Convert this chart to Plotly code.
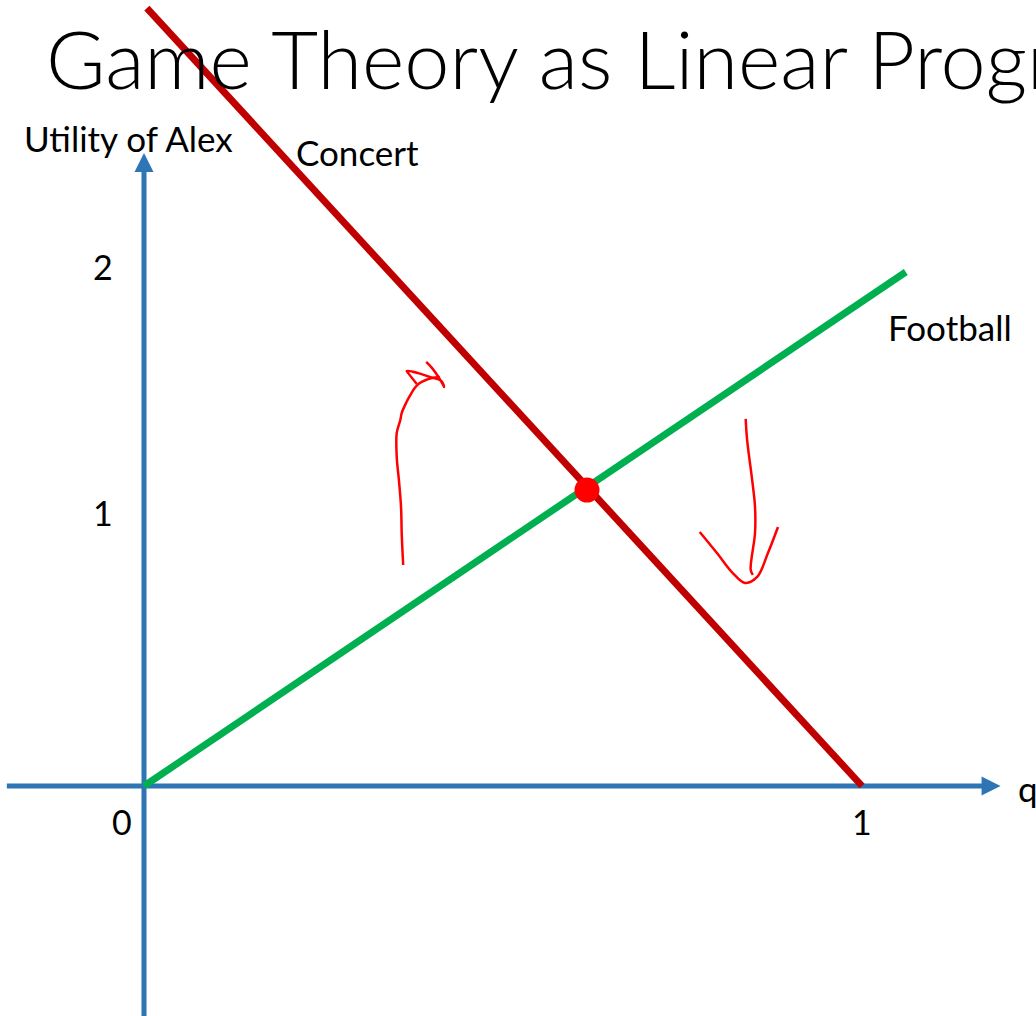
import plotly.graph_objects as go

# payoff lines (q = probability, utility of Alex)
football_q = [0.0, 1.061]
football_u = [0.0, 1.977]
concert_q = [0.004, 1.0]
concert_u = [2.992, 0.0]

# axis extents
x_axis_q = [-0.191, 1.17]
y_axis_u = [-0.885, 2.37]
x_arrow = (1.193, 0.0)
y_arrow = (0.0, 2.435)

x_tick_vals = [0, 1]
x_tick_labels = ["0", "1"]
y_tick_vals = [1, 2]
y_tick_labels = ["1", "2"]

# hand drawn annotations (red pen)
left_stroke_q = [0.361, 0.359, 0.358, 0.355, 0.352, 0.352, 0.357, 0.359, 0.365, 0.371, 0.377, 0.384, 0.393, 0.401, 0.412]
left_stroke_u = [0.850, 0.965, 1.073, 1.177, 1.265, 1.358, 1.408, 1.435, 1.473, 1.504, 1.531, 1.550, 1.562, 1.569, 1.573]
left_head_q = [0.380, 0.368, 0.366, 0.382, 0.398, 0.414, 0.418, 0.412, 0.401, 0.393]
left_head_u = [1.546, 1.588, 1.596, 1.588, 1.573, 1.558, 1.535, 1.565, 1.608, 1.631]
right_stroke_q = [0.838, 0.840, 0.847, 0.851, 0.851, 0.845, 0.848]
right_stroke_u = [1.412, 1.331, 1.177, 1.073, 0.973, 0.831, 0.812]
right_head_q = [0.774, 0.798, 0.820, 0.837, 0.854, 0.869, 0.883]
right_head_u = [0.977, 0.896, 0.819, 0.781, 0.804, 0.896, 0.996]
equilibrium = (0.617, 1.138)

BLUE = "#2E75B6"
GREEN = "#00B050"
DARKRED = "#C00000"
PEN = "#FF0000"
FONT = "Lato"

fig = go.Figure()

# axes with arrow heads
fig.add_trace(go.Scatter(x=x_axis_q, y=[0, 0], mode="lines", line=dict(color=BLUE, width=5)))
fig.add_trace(go.Scatter(x=[0, 0], y=y_axis_u, mode="lines", line=dict(color=BLUE, width=5)))
fig.add_trace(go.Scatter(x=[x_arrow[0]], y=[x_arrow[1]], mode="markers",
                         marker=dict(symbol="arrow-right", size=19, color=BLUE, line=dict(width=0))))
fig.add_trace(go.Scatter(x=[y_arrow[0]], y=[y_arrow[1]], mode="markers",
                         marker=dict(symbol="arrow-up", size=19, color=BLUE, line=dict(width=0))))

fig.add_trace(go.Scatter(x=football_q, y=football_u, mode="lines", line=dict(color=GREEN, width=7)))
fig.add_trace(go.Scatter(x=concert_q, y=concert_u, mode="lines", line=dict(color=DARKRED, width=7)))

for xs, ys in [(left_stroke_q, left_stroke_u), (left_head_q, left_head_u),
               (right_stroke_q, right_stroke_u), (right_head_q, right_head_u)]:
    fig.add_trace(go.Scatter(x=xs, y=ys, mode="lines", line=dict(color=PEN, width=2.5, shape="spline")))

fig.add_trace(go.Scatter(x=[equilibrium[0]], y=[equilibrium[1]], mode="markers",
                         marker=dict(size=25, color=PEN, line=dict(width=0))))

# tick labels
for v, t in zip(x_tick_vals, x_tick_labels):
    fig.add_annotation(x=v, y=0, text=t, showarrow=False, yshift=-35,
                       xshift=-22 if v == 0 else 0, font=dict(family=FONT, size=34, color="black"))
for v, t, sh in zip(y_tick_vals, y_tick_labels, [14, 0]):
    fig.add_annotation(x=0, y=v, text=t, showarrow=False, xshift=-41, yshift=sh,
                       font=dict(family=FONT, size=34, color="black"))

labels = [("Utility of Alex", 22, 138), ("Concert", 294, 152), ("Football", 886, 327), ("q", 1016, 788)]
for t, px, py in labels:
    fig.add_annotation(xref="paper", yref="paper", x=px / 1036, y=1 - py / 1016, text=t,
                       showarrow=False, xanchor="left", yanchor="middle",
                       font=dict(family=FONT, size=35, color="black"))

fig.add_annotation(xref="paper", yref="paper", x=44 / 1036, y=1 - 57 / 1016,
                   text="Game Theory as Linear Programming", showarrow=False,
                   xanchor="left", yanchor="middle",
                   font=dict(family=FONT, size=81, color="black", weight=300))

fig.update_layout(
    width=1036, height=1016,
    margin=dict(l=0, r=0, t=0, b=0),
    paper_bgcolor="white", plot_bgcolor="white",
    showlegend=False,
    xaxis=dict(range=[-144 / 718, 892 / 718], visible=False),
    yaxis=dict(range=[-230 / 260, 786 / 260], visible=False),
)

# drop the default page margin so the slide fills the window
fig.write_html("out.html", config={"displayModeBar": False},
               post_script="document.body.style.margin='0';")
